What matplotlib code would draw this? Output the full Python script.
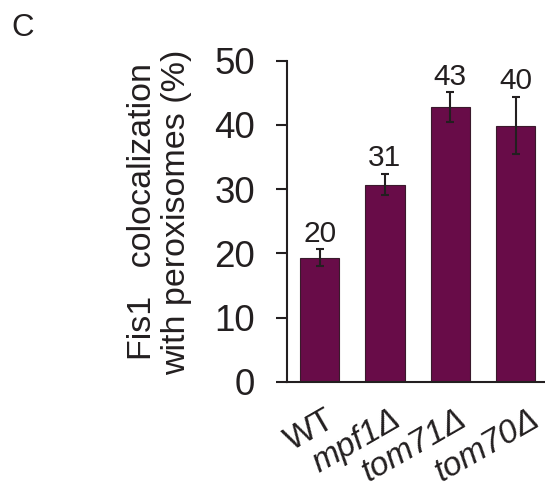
import matplotlib
matplotlib.use("Agg")
import matplotlib.pyplot as plt

categories = ["WT", "mpf1Δ", "tom71Δ", "tom70Δ"]
values = [19.3, 30.7, 42.8, 39.9]
errors = [1.3, 1.65, 2.3, 4.45]
value_labels = ["20", "31", "43", "40"]
italic = [False, True, True, True]
yticks = [0, 10, 20, 30, 40, 50]

plt.rcParams['font.family'] = ['Liberation Sans', 'DejaVu Sans']
TXT = '#231f20'
BAR = '#680c48'

fig = plt.figure(figsize=(5.45, 4.9), dpi=100)
ax = fig.add_axes([0.5266, 0.221, 1 - 0.5266, 0.655])

x = list(range(len(categories)))
ax.bar(x, values, width=0.6, color=BAR, edgecolor='#3a1a2c', linewidth=0.8, zorder=2)
ax.errorbar(x, values, yerr=errors, fmt='none', ecolor=TXT, elinewidth=1.5,
            capsize=2.8, capthick=1.5, zorder=3)
for xi, v, e, lab in zip(x, values, errors, value_labels):
    ax.annotate(lab, (xi, v + e), xytext=(0, 5.5), textcoords='offset points',
                ha='center', va='baseline', fontsize=21.5, color=TXT)

ax.set_xlim(-0.5, 3.45)
ax.set_ylim(0, 50)
ax.set_yticks(yticks)
ax.set_yticklabels([str(t) for t in yticks], fontsize=26.5, color=TXT)
ax.tick_params(axis='y', length=8, width=1.5, color=TXT, pad=15)
ax.tick_params(axis='x', length=0)
ax.set_xticks(x)
ax.set_xticklabels([])
label_dx = [4, 4, 4, 10]
for xi, lab, it, dx in zip(x, categories, italic, label_dx):
    ax.annotate(lab, (xi, 0), xytext=(dx, -16), textcoords='offset points',
                ha='right', va='top', rotation=30, rotation_mode='anchor',
                fontsize=24, color=TXT, style='italic' if it else 'normal',
                annotation_clip=False)

for s in ['top', 'right']:
    ax.spines[s].set_visible(False)
for s in ['left', 'bottom']:
    ax.spines[s].set_linewidth(1.5)
    ax.spines[s].set_color(TXT)

ax.set_ylabel("Fis1   colocalization\nwith peroxisomes (%)", fontsize=24.5,
              color=TXT, linespacing=1.12)
ax.yaxis.set_label_coords(-0.368, 0.529)

fig.text(11 / 545, 1 - 28 / 490, "C", fontsize=22.5, color=TXT, ha='left', va='center')

fig.savefig("out.png", dpi=100)
